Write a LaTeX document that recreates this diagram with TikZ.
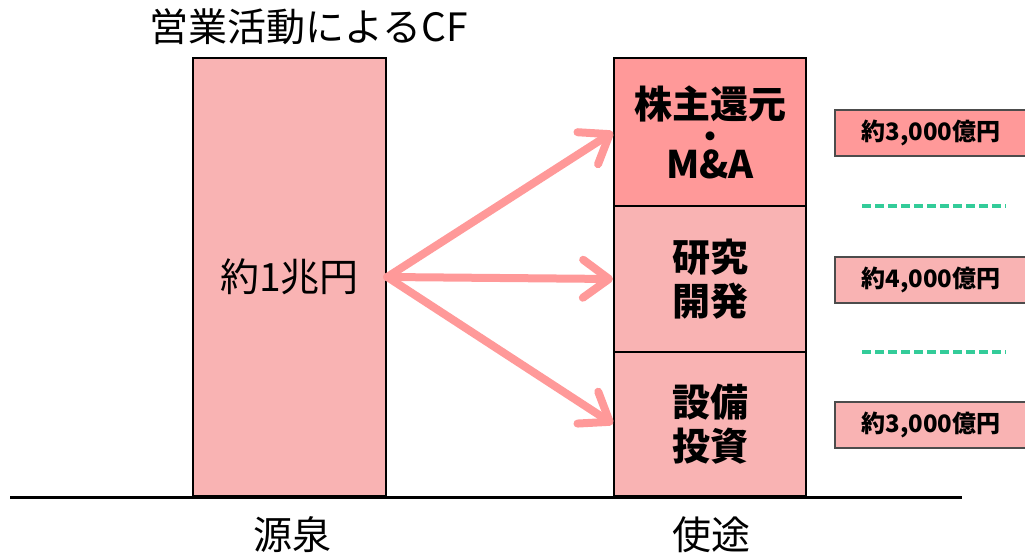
\documentclass[tikz,border=0pt]{standalone}
\usepackage{fontspec}
\setmainfont{Noto Sans CJK JP}
\usetikzlibrary{arrows.meta}
\definecolor{pinklight}{HTML}{F9B3B3}
\definecolor{pinkdark}{HTML}{FF9999}
\definecolor{arrowpink}{HTML}{FF9999}
\definecolor{dashgreen}{HTML}{33CC99}
\begin{document}
\begin{tikzpicture}[x=1pt,y=-1pt,
  bar/.style={draw=black, line width=2.5pt, fill=pinklight, inner sep=0pt,
    minimum width=193pt, minimum height=438pt, font=\fontsize{39}{46}\selectfont},
  cell/.style={draw=black, line width=2pt, fill=pinklight, inner sep=0pt,
    minimum width=192pt, align=center, font=\fontsize{38}{44}\selectfont\bfseries},
  amount/.style={draw=black!70, line width=1.2pt, fill=pinklight, inner sep=0pt,
    minimum width=192pt, minimum height=46pt, font=\fontsize{24}{28}\selectfont\bfseries},
  caption/.style={font=\fontsize{39}{46}\selectfont},
  sep/.style={draw=dashgreen, line width=3.5pt, dash pattern=on 9pt off 4pt},
  ground/.style={draw=black, line width=3pt},
  flow/.style={draw=arrowpink, line width=8pt, line cap=round,
    -{Straight Barb[length=26pt, width=38pt, line cap=round, line join=round]}}
]
\useasboundingbox (0,0) rectangle (1025,559);

% source bar
\node[bar] (src) at (289.5,277) {約1兆円};

% use cells
\node[cell, fill=pinkdark, minimum height=148pt] (use1) at (710,132)
  {株主還元\\[-14pt]{\fontsize{32}{32}\selectfont ・}\\[-14pt]M\&A};
\node[cell, minimum height=146pt] (use2) at (710,279) {研究\\開発};
\node[cell, minimum height=144pt] (use3) at (710,424) {設備\\投資};

% ground line
\coordinate (g1) at (10,497);
\coordinate (g2) at (962,497);
\draw[ground] (g1) -- (g2);

% arrows
\draw[flow] (src.east) -- (use1.west);
\draw[flow] (src.east) -- (use2.west);
\draw[flow] (src.east) -- (use3.west);

% amounts
\node[amount, fill=pinkdark] (amt1) at (931,133) {約3,000億円};
\node[amount] (amt2) at (931,280) {約4,000億円};
\node[amount] (amt3) at (931,425) {約3,000億円};

% dashed separators
\coordinate (d1a) at (862,206);
\coordinate (d1b) at (1006,206);
\coordinate (d2a) at (862,352);
\coordinate (d2b) at (1006,352);
\draw[sep] (d1a) -- (d1b);
\draw[sep] (d2a) -- (d2b);

% captions
\node[caption] (title) at (309,27) {営業活動によるCF};
\node[caption] (lblsrc) at (292,535) {源泉};
\node[caption] (lbluse) at (711,535) {使途};
\end{tikzpicture}
\end{document}
